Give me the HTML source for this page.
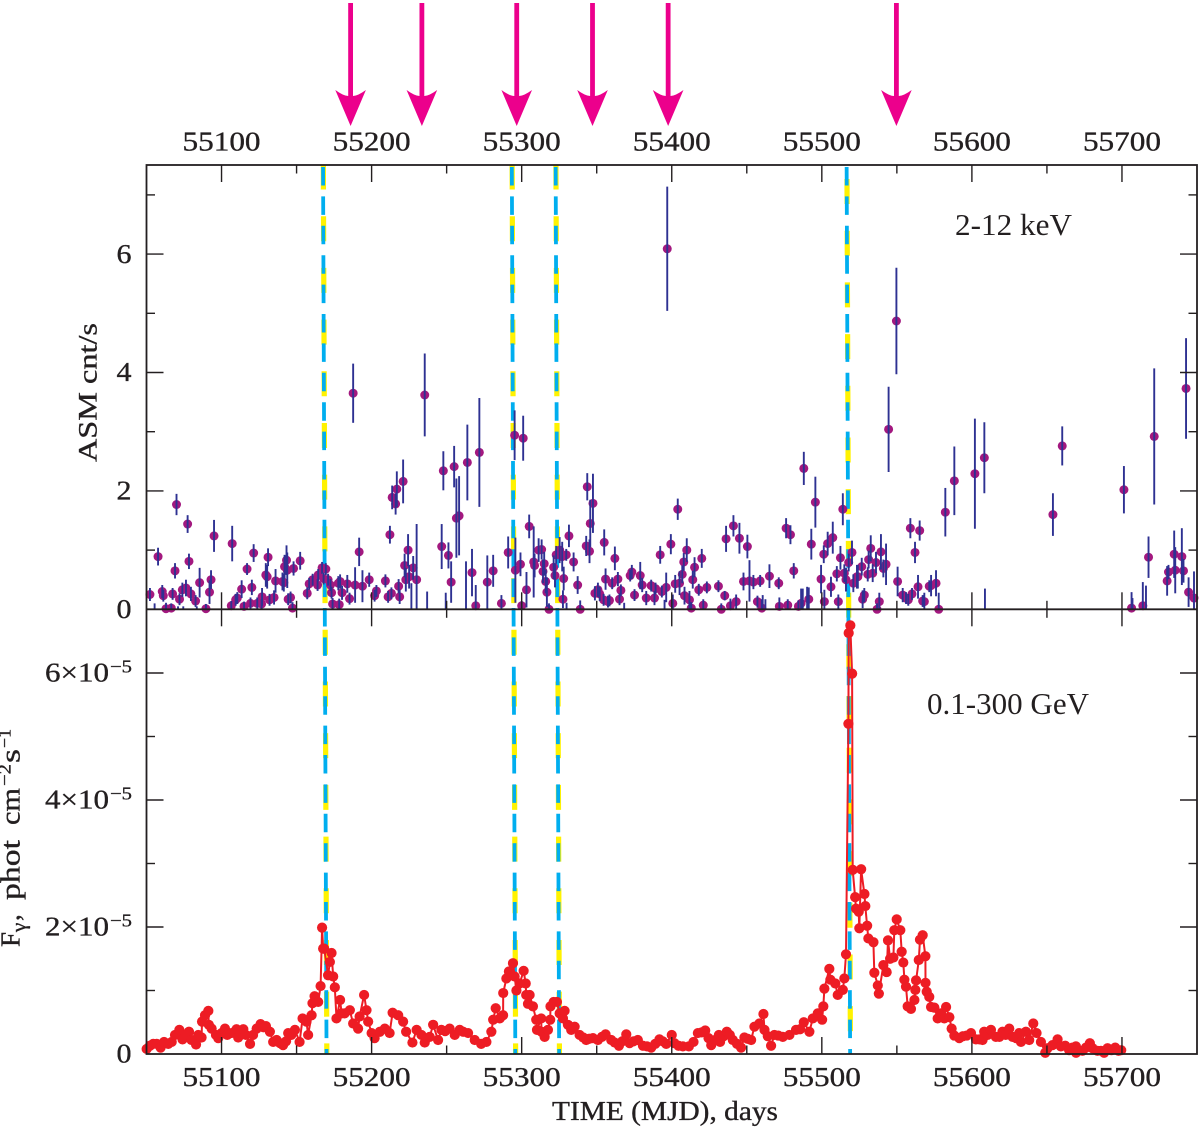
<!DOCTYPE html>
<html lang="en">
<head>
<meta charset="utf-8">
<title>ASM and Fermi light curves</title>
<style>
html,body{margin:0;padding:0;background:#fff;}
svg{display:block;}
text{font-family:"Liberation Serif","DejaVu Serif",serif;fill:#231f20;stroke:#231f20;stroke-width:0.35px;}
</style>
</head>
<body>
<svg id="chart" xmlns="http://www.w3.org/2000/svg" width="1200" height="1127" viewBox="0 0 1200 1127">
  <rect x="0" y="0" width="1200" height="1127" fill="#ffffff"/>
  <g id="flares"></g>
  <g id="asm"></g>
  <g id="gamma"></g>
  <g id="axes"></g>
  <g id="arrows"></g>
  <text x="552" y="1120" font-size="27" textLength="226" lengthAdjust="spacingAndGlyphs">TIME (MJD), days</text>
  <text transform="translate(96.5,462) rotate(-90)" font-size="26" textLength="139" lengthAdjust="spacingAndGlyphs">ASM cnt/s</text>
  <g transform="translate(19.5,0) rotate(-90)">
    <text x="-947" y="0" font-size="27">F</text>
    <text x="-932" y="6" font-size="21">γ</text>
    <text x="-921" y="0" font-size="27">,</text>
    <text x="-900" y="0" font-size="27" textLength="60" lengthAdjust="spacingAndGlyphs">phot</text>
    <text x="-825" y="0" font-size="27" textLength="37" lengthAdjust="spacingAndGlyphs">cm</text>
    <text x="-786" y="-9" font-size="18" textLength="22" lengthAdjust="spacingAndGlyphs">−2</text>
    <text x="-763" y="0" font-size="27" textLength="14" lengthAdjust="spacingAndGlyphs">s</text>
    <text x="-748" y="-9" font-size="18" textLength="19" lengthAdjust="spacingAndGlyphs">−1</text>
  </g>
  <text x="955" y="235" font-size="31" textLength="117" lengthAdjust="spacingAndGlyphs" style="stroke-width:0">2-12 keV</text>
  <text x="927" y="714" font-size="31" textLength="162" lengthAdjust="spacingAndGlyphs" style="stroke-width:0">0.1-300 GeV</text>
</svg>
<script>
const xTicksMajor = [55100,55200,55300,55400,55500,55600,55700];
const xTicksMinor = [55150,55250,55350,55450,55550,55650];
const asmTicksMajor = [2,4,6];
const asmTicksMinor = [1,3,5,7];
const asmTickLabels = ["0","2","4","6"];
const asmTickLabelValues = [0,2,4,6];
const gammaTicksMajor = [2,4,6];
const gammaTicksMinor = [1,3,5];
const gammaTickDigits = ["2","4","6"];
const arrowMjd = [55186,55233.5,55296.7,55347.2,55397.6,55549.7];
const flareMjd = [55168.8,55294.6,55323.8,55517.7];

const asmMjd = [
55052.3,55055.4,55057.7,55060.5,55061.2,55063,55066.5,55067.4,55069,55070,55071,55072,55073.9,55074.5,55076.3,55077.4,55078.3,55079.6,55082.7,55083.5,55085.4,55089.6,55092,55093,55095,
55106.5,55107.1,55109.4,55110.5,55113.4,55115,55117,55119.3,55120.2,55121.4,55123.8,55127,55126.7,55129.5,55130.4,55131,55132,55135,55136,55140.6,55141.5,55142,55143.3,55143.8,55144.4,55146,55147.3,55148,55152.4,
55157.1,55158.4,55160.7,55164.4,55164,55167,55169.5,55168,55171,55172.6,55173.3,55174,55178.4,55177.8,55179,55180.3,55183.8,55185.3,55187.7,55189,55191.7,55193.9,55198.4,
55202,55203.2,55209.2,55211,55212.2,55213.2,55213.7,55216,55216.8,55218.7,55218,55221,55222,55222.8,55224.3,55225,55226.5,55227.7,55230,55235.4,55237,55246.7,55247.8,55249.4,55251.2,55253,55255,55256.5,55258.3,55262.9,55263.8,55266.9,55269.4,55271.8,55277.1,55281,55286.5,55291,
55295.3,55301,55295.8,55299.2,55300,55303.2,55305,55308,55308.6,55311.3,55313.3,55314.2,55315,55316,55316.8,55318.2,55321.3,55322.2,55323,55325.3,55327,55328,55327.5,55329.7,55329.9,55331.5,55334.6,55337.3,55339,55343.7,55343,55345.2,55345.7,55347.5,55348.8,55350.8,55352,55354.6,55355,55355.9,55357.5,55358.5,55360.3,55362.1,55364.1,55365.2,55366.1,55368.3,
55372.3,55373.4,55375.2,55379,55380.3,55383,55386.3,55388.5,55389.2,55392.3,55393.4,55395.2,55396.3,55397,55399.4,55400.7,55402.3,55404,55405.2,55407,55408,55408.5,55410,55411.8,55413,55414,55415.2,55418,55420,55421,55423.4,
55431.1,55433,55435.3,55436.2,55439.1,55441.1,55442.9,55445.1,55447.8,55450.4,55451.8,55454.4,55457.1,55458.9,55460,55460.6,55462.4,55465.1,55471.7,55471.3,55476.2,55477.3,55479.1,55481.3,55484.4,55486.2,55487.3,55488,55490.2,55491.3,55493,55495.7,55499.5,
55501.3,55501.7,55503.9,55506.1,55507.3,55510,55511,55512.4,55514,55515,55516.1,55517.9,55520.1,55521,55523.4,55524,55526.6,55527.2,55528.3,55530.6,55531.2,55532.6,55533.9,55536.1,55536.8,55538.3,55539.4,55541,55542.8,55544.5,55549.7,
55550.5,55553.9,55556.1,55557.6,55559,55560.1,55562.1,55564.1,55565.2,55567.2,55568.3,55571.6,55572.8,55576.1,55577.9,55582.3,55588.3,55602,55608.3,55608.7,55654,55660.2,
55701.3,55706.4,55707,55713.9,55716,55717.7,55721.5,55730.1,55731,55734.8,55735.5,55739.9,55741,55742.7,55744.4,55748
];
const asmRate = [
.25,-.05,.89,.30,.23,.01,.02,.26,.65,1.77,-.05,.17,.33,-.05,.36,1.44,.81,.26,.14,-.05,.45,.01,.29,.5,1.24,
.06,1.11,.16,.19,.34,.05,.68,.1,.37,.95,.1,.21,.09,.58,.55,.88,.16,.2,.48,.47,.45,.72,.83,.66,.17,.2,.02,.69,.82,
.27,.43,.5,.58,.41,.7,.68,.52,.5,.41,.28,.09,.08,.44,.47,.28,.43,.18,3.65,.41,.97,.39,.5,
.23,.31,.48,.21,1.26,.27,1.89,1.78,2.03,.21,.39,2.16,.74,.5,1.0,.55,-.1,.7,.5,3.62,-.1,1.06,2.34,-.1,.91,.46,2.41,1.54,1.58,-.15,2.48,.62,.06,2.65,.46,.65,.1,.96,
2.94,2.89,.66,.76,.06,.33,1.4,.8,.74,1.0,1.01,.64,.77,.47,.29,0,.71,.57,.92,1.0,.89,.52,.17,.92,-.1,1.24,.8,.41,0,2.07,1.07,.98,1.45,1.79,.27,.33,.26,.16,1.13,.51,.13,.15,.44,.86,.51,.17,.32,-.05,
.57,.63,.24,.57,.41,.19,.4,.19,.35,.92,.3,-.05,.37,6.09,1.1,.1,.43,1.69,.44,.59,.8,.23,1.0,.16,.02,.5,.71,.33,.86,.07,.37,
.39,0,.23,1.19,.06,1.41,.13,1.2,.47,1.06,.48,.46,.13,.48,.02,-.05,-.05,.56,.05,.44,1.37,.07,1.26,.65,.05,.1,-.1,2.38,-.1,.17,1.1,1.81,.51,
.93,.13,1.11,.38,1.21,.6,.13,.87,1.69,.61,.5,.79,.96,.44,.55,.55,.72,.17,.24,.59,.84,1.03,.61,.79,0,.13,.97,.69,.76,3.04,4.87,
.47,.24,.19,.16,1.37,.26,.96,.38,1.33,.14,.13,.39,.4,.44,0,1.64,2.17,2.29,2.56,-.1,1.6,2.76,
2.02,.02,-.05,.06,-.1,.88,2.92,.48,.63,.93,.66,.89,.65,3.73,.29,.19
];
const asmError = [
.11,.15,.15,.11,.1,.1,.08,.1,.13,.18,.1,.1,.12,.1,.14,.15,.13,.12,.1,.1,.25,.08,.2,.16,.27,
.08,.3,.1,.1,.15,.08,.1,.1,.13,.15,.1,.15,.08,.2,.2,.15,.1,.12,.2,.15,.15,.2,.25,.3,.1,.1,.1,.12,.15,
.1,.1,.1,.1,.1,.1,.1,.1,.1,.1,.1,.1,.1,.12,.12,.12,.15,.1,.5,.3,.24,.27,.12,
.1,.1,.11,.1,.15,.1,.2,.18,.3,.12,.12,.37,.2,.2,.27,.2,.54,.2,.94,.7,.4,.38,.33,.38,.22,.35,.35,.67,.67,.96,.64,.4,.35,.92,.45,.27,.14,.27,
.42,.38,.55,.2,.08,.3,.2,.6,.2,.2,.17,.2,.2,.2,.25,.1,.2,.2,.15,.22,.25,.2,.15,.1,.21,.19,.16,.15,.15,.23,.17,.2,.4,.5,.12,.12,.12,.1,.22,.18,.1,.1,.1,.2,.12,.1,.1,.16,
.1,.12,.1,.23,.12,.12,.1,.12,.1,.15,.1,.21,.25,1.05,.17,.15,.15,.18,.2,.15,.15,.15,.2,.15,.1,.15,.17,.1,.16,.1,.1,
.1,.1,.08,.22,.12,.18,.12,.26,.15,.2,.35,.12,.1,.1,.15,.29,.22,.2,.15,.1,.17,.1,.16,.13,.1,.25,.45,.28,.48,.2,.26,.43,.24,
.15,.2,.2,.17,.27,.13,.12,.2,.27,.15,.2,.15,.2,.15,.2,.2,.15,.15,.12,.12,.15,.22,.15,.18,.1,.15,.3,.15,.35,.72,.9,
.25,.12,.1,.1,.17,.1,.18,.2,.17,.1,.15,.1,.18,.22,.28,.41,.58,.93,.6,.45,.36,.33,
.4,.27,.24,.4,.5,.35,1.15,.25,.12,.4,.39,.48,.2,.85,.25,.45
];

const gammaMjd = [
55050.1,55052.3,55054.5,55056.8,55059.4,55061.7,55064.5,55066.8,55069,55071.9,55074,55076,55078.3,55080,55083,55084.5,55086.7,55087,55089,55091.2,55091.5,55093.4,55096.3,55097.8,55100,
55102.3,55103.8,55106.7,55110,55111.1,55113,55114.5,55116.2,55119,55121,55123.4,55126,55128,55129.6,55132.2,55134.4,55136.7,55139,55141,55143,55144.4,55146.5,55148.9,55152,55154,
55156.6,55157.7,55160,55160.6,55162,55164.4,55166,55167,55167.7,55168.4,55171,55172.2,55173.3,55174.4,55175.5,55176.6,55179,55180,55182,55185.5,55187.7,55191,55192,55195,55196.6,55197.7,55200,
55202,55205.5,55208.8,55212,55214,55217.7,55221,55223,55227.2,55230,55233.2,55235.4,55238.7,55241,55244.3,55246.5,55249,55252,55255.4,55258.7,55261,55264.3,55268.7,55273,55276.5,55279.8,
55281,55282.7,55285.4,55287.6,55287.7,55289.8,55291.5,55294.2,55295.3,55296.5,55298.7,55301.3,55302.7,55303,55304.2,55305.3,55307.5,55309.7,55310.2,55313,55313.2,55315.3,55317.5,55319,55319.2,
55321.3,55323.5,55325.3,55327.5,55328.6,55330.8,55333,55335.3,55338.6,55341,55343,55345,55347.5,55350.8,55353.5,55355.9,55359.7,55362,55364.8,55367,55369.7,55371.9,55374.5,55377.4,55380.8,
55383.5,55386.3,55389,55391.8,55394,55396.3,55400,55401.8,55404.5,55407.4,55411.4,55414.5,55417.4,55420,55422.3,55424.5,55426.3,55429,55431.4,55432.2,55434.5,55436.7,55438.7,55440.7,55443.5,55446.2,
55448.4,55450.5,55452.9,55455.1,55458.4,55461.1,55461.8,55464,55466.2,55468.4,55471,55474,55478.4,55482.8,55485.5,55488,55491.7,55494,55497.3,55500.2,55501,55501.7,55505,55505.7,55509,55510.6,55514,55515,55516.1,
55517.7,55517.9,55519,55520.2,55520.6,55522.2,55522.8,55524.6,55525,55526.2,55528.4,55529,55530.2,55531,55534.4,55535,55537.3,55538,55541,55543.2,55544.1,55545.5,55547.7,55548.3,55549.9,55552.3,55553.2,55554.3,55555,55556.1,55557.2,55559.4,
55561.7,55562.3,55562.8,55564.6,55565.4,55567.2,55569,55569.1,55569.9,55571.6,55572.8,55575,55577.2,55579.4,55581.6,55582.8,55585,55586.5,55588.3,55591.6,55594,55596.5,55599.4,55602.7,55605,55607.1,55608.2,55610.5,55612.7,55616,55618.3,55620.4,55622.5,55624.9,
55627.1,55629.5,55631.5,55632.7,55636,55638.2,55640.9,55643.1,55646,55648.9,55650.4,55653.7,55657.1,55659.3,55662.2,55664.8,55667,55669.3,55669.4,55673.7,55676,55678.6,55680.4,55683.7,55686,55688.1,55690.4,55693,55695.5,55697.7,55699.5
];
const gammaFlux = [
.08,.13,.16,.16,.10,.19,.16,.19,.30,.38,.23,.30,.35,.22,.15,.30,.26,.51,.61,.68,.46,.40,.30,.25,.33,
.40,.30,.33,.39,.26,.33,.39,.30,.16,.30,.40,.47,.42,.44,.35,.19,.22,.17,.14,.20,.33,.30,.38,.19,.56,
.51,.30,.61,.80,.91,.82,1.07,1.99,1.66,1.66,1.24,1.45,1.59,1.22,1.05,.56,.85,.64,.64,.69,.48,.40,.59,.93,.69,.51,.33,
.25,.35,.40,.33,.65,.61,.51,.35,.18,.38,.30,.18,.27,.46,.22,.38,.36,.40,.30,.38,.35,.33,.22,.16,.19,.35,
.54,.72,.56,.61,.96,1.19,1.30,1.43,1.22,1.0,1.11,1.31,1.11,.93,.79,.93,.75,.54,.38,.56,.35,.27,.38,.54,.75,
.82,.82,.64,.56,.68,.46,.38,.43,.30,.26,.22,.24,.25,.22,.27,.31,.22,.18,.13,.2,.31,.17,.2,.22,.13,
.12,.10,.16,.23,.2,.16,.30,.17,.13,.12,.12,.19,.33,.34,.37,.25,.14,.22,.30,.19,.28,.35,.3,.22,.16,.10,
.26,.24,.22,.43,.48,.63,.38,.28,.13,.30,.29,.27,.30,.38,.39,.50,.35,.56,.64,.54,.75,1.03,1.34,1.17,1.11,.93,1.01,1.19,1.57,
5.20,6.63,6.75,5.99,2.90,2.47,2.29,2.24,1.98,2.91,2.52,2.33,2.02,1.82,1.76,1.28,1.08,.95,1.40,1.29,1.79,1.50,1.52,1.95,2.12,1.95,1.61,1.44,1.17,1.06,.75,.71,
.85,1.01,1.16,1.48,1.80,1.87,1.54,1.12,.98,.90,.74,.73,.56,.64,.56,.74,.58,.40,.29,.25,.28,.29,.33,.23,.23,.22,.35,.3,.38,.27,.27,.35,.3,.40,
.27,.25,.33,.19,.35,.22,.48,.33,.19,.02,.09,.14,.23,.12,.13,.06,.1,.12,.02,.05,.1,.17,.09,.05,.05,.02,.09,.06,.1,.05,.06
];

const NS = 'http://www.w3.org/2000/svg';
const frameLeft = 146.5, frameRight = 1197, frameTop = 165, frameMid = 609.3, frameBottom = 1054;
const xScale = m => frameLeft + (m - 55050) * (frameRight - frameLeft) / 700;
const asmScale = v => frameMid - v * 59.2;
const gammaScale = v => frameBottom - v * 63.5;
const ink = '#231f20';

function make(parent, tag, attrs, text) {
  const el = document.createElementNS(NS, tag);
  for (const k in attrs) el.setAttribute(k, attrs[k]);
  if (text !== undefined) el.textContent = text;
  parent.appendChild(el);
  return el;
}

/* flare marker lines: yellow dashes beneath cyan dashes, very slightly slanted */
const flaresG = document.getElementById('flares');
const yellowPhase = [164.5, 164.5, 164.5, 179];
flareMjd.forEach((m, i) => {
  const cx = xScale(m);
  const yellow = make(flaresG, 'line', {x1: cx - 1.75 + 0.3, y1: frameTop, x2: cx + 1.75 + 0.3, y2: frameBottom,
    stroke: '#fff200', 'stroke-width': 5.2, 'stroke-dasharray': '25 26.7', 'stroke-dashoffset': frameTop - yellowPhase[i]});
  
  
  const cyan = make(flaresG, 'line', {x1: cx - 1.75, y1: frameTop, x2: cx + 1.75, y2: frameBottom,
    stroke: '#00aeef', 'stroke-width': 3.8, 'stroke-dasharray': '18.5 10.9', 'stroke-dashoffset': frameTop - 167});
  
  
});

/* ASM points and error bars */
const asmG = document.getElementById('asm');
asmMjd.forEach((m, i) => {
  if (asmRate[i] < -0.02) return;
  const dot = make(asmG, 'circle', {cx: xScale(m), cy: asmScale(asmRate[i]), r: 4.5, fill: '#a3187f'});
  
  
});
asmMjd.forEach((m, i) => {
  const low = Math.max(0, asmRate[i] - asmError[i]);
  const high = asmRate[i] + asmError[i];
  const bar = make(asmG, 'line', {x1: xScale(m), x2: xScale(m), y1: asmScale(low), y2: asmScale(high), stroke: '#2e3192', 'stroke-width': 1.9});
  
  
});

/* gamma-ray light curve */
const gammaG = document.getElementById('gamma');
const gammaPath = gammaMjd.map((m, i) => xScale(m).toFixed(1) + ',' + gammaScale(gammaFlux[i]).toFixed(1)).join(' ');
const gammaLine = make(gammaG, 'polyline', {points: gammaPath, fill: 'none', stroke: '#ed1c24', 'stroke-width': 2});


gammaMjd.forEach((m, i) => {
  const dot = make(gammaG, 'circle', {cx: xScale(m), cy: gammaScale(gammaFlux[i]), r: 5.1, fill: '#ed1c24'});
  
  
});

/* axes */
const axesG = document.getElementById('axes');
const frame = make(axesG, 'rect', {x: frameLeft, y: frameTop, width: frameRight - frameLeft, height: frameBottom - frameTop, fill: 'none', stroke: ink, 'stroke-width': 1.8});


const midAxis = make(axesG, 'line', {x1: frameLeft, x2: frameRight, y1: frameMid, y2: frameMid, stroke: ink, 'stroke-width': 1.8});



function xTick(m, len) {
  const x = xScale(m);
  const t1 = make(axesG, 'line', {x1: x, x2: x, y1: frameTop, y2: frameTop + len, stroke: ink, 'stroke-width': 1.4});
  
  
  const t2 = make(axesG, 'line', {x1: x, x2: x, y1: frameMid - len, y2: frameMid + len, stroke: ink, 'stroke-width': 1.4});
  
  
  const t3 = make(axesG, 'line', {x1: x, x2: x, y1: frameBottom - len, y2: frameBottom, stroke: ink, 'stroke-width': 1.4});
  
  
}
xTicksMajor.forEach(m => xTick(m, 17));
xTicksMinor.forEach(m => xTick(m, 8.5));

function yTick(y, len) {
  const l = make(axesG, 'line', {x1: frameLeft, x2: frameLeft + len, y1: y, y2: y, stroke: ink, 'stroke-width': 1.4});
  
  
  const r = make(axesG, 'line', {x1: frameRight - len, x2: frameRight, y1: y, y2: y, stroke: ink, 'stroke-width': 1.4});
  
  
}
asmTicksMajor.forEach(v => yTick(asmScale(v), 17));
asmTicksMinor.forEach(v => yTick(asmScale(v), 8.5));
gammaTicksMajor.forEach(v => yTick(gammaScale(v), 17));
gammaTicksMinor.forEach(v => yTick(gammaScale(v), 8.5));

xTicksMajor.forEach(m => {
  const top = make(axesG, 'text', {x: xScale(m) - 39, y: 150.5, 'font-size': 27, textLength: 78, lengthAdjust: 'spacingAndGlyphs'}, String(m));
  
  
  const bottom = make(axesG, 'text', {x: xScale(m) - 39, y: 1086, 'font-size': 27, textLength: 78, lengthAdjust: 'spacingAndGlyphs'}, String(m));
  
  
});
asmTickLabels.forEach((label, i) => {
  const t = make(axesG, 'text', {x: 116.5, y: asmScale(asmTickLabelValues[i]) + 8.7, 'font-size': 27, textLength: 15, lengthAdjust: 'spacingAndGlyphs'}, label);
  
  
});
gammaTickDigits.forEach((digit, i) => {
  const y = gammaScale(gammaTicksMajor[i]);
  const t = make(axesG, 'text', {x: 45, y: y + 8.5, 'font-size': 27, textLength: 64, lengthAdjust: 'spacingAndGlyphs'}, digit + '×10');
  
  
  const s = make(axesG, 'text', {x: 110, y: y - 0.5, 'font-size': 18, textLength: 22, lengthAdjust: 'spacingAndGlyphs'}, '−5');
  
  
});
const zeroGamma = make(axesG, 'text', {x: 116.5, y: 1062.5, 'font-size': 27, textLength: 15, lengthAdjust: 'spacingAndGlyphs'}, '0');



/* arrows */
const arrowsG = document.getElementById('arrows');
arrowMjd.forEach(m => {
  const x = xScale(m);
  const d = `M${x-15.3},90 Q${x-7},96 ${x-2.4},96 V3 H${x+2.4} V96 Q${x+7},96 ${x+15.3},90 L${x},126 Z`;
  const a = make(arrowsG, 'path', {d: d, fill: '#ec008c'});
  
  
});
</script>
</body>
</html>
